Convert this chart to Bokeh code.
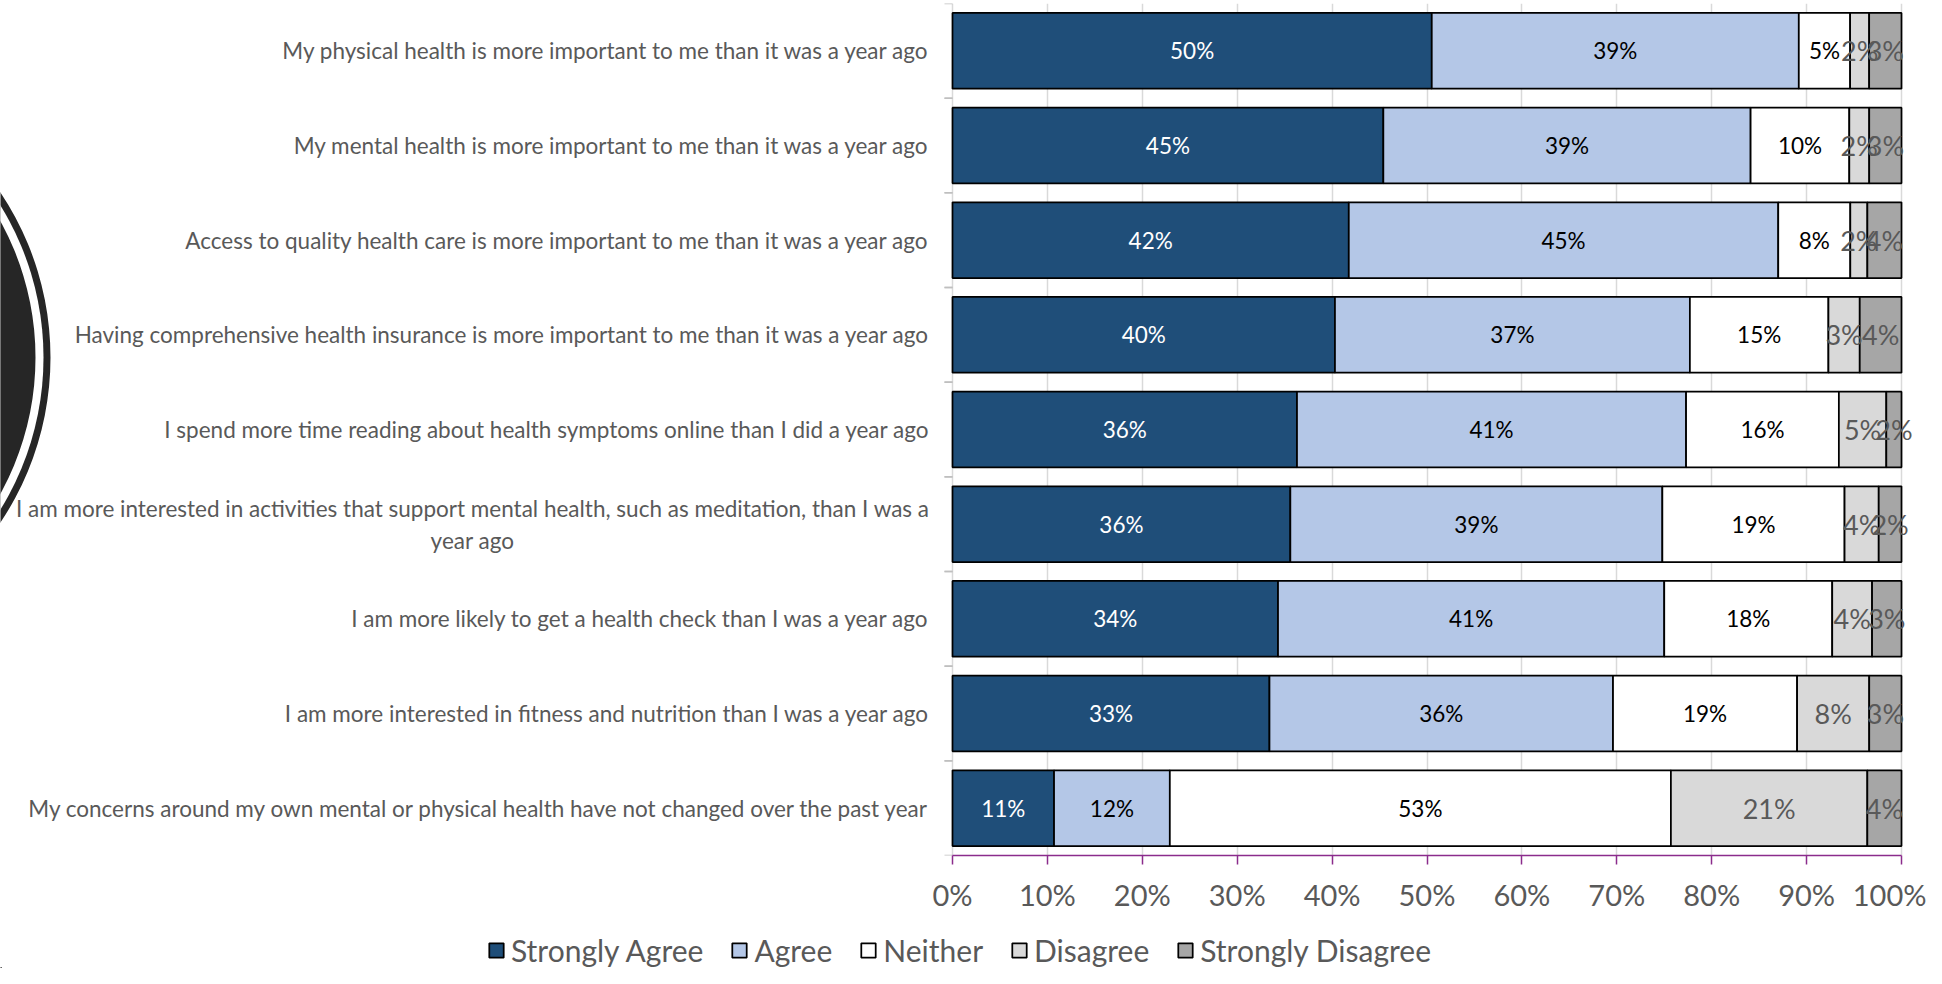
from bokeh.plotting import figure
from bokeh.layouts import column
from bokeh.models import (Range1d, FactorRange, ColumnDataSource, FixedTicker,
                          PrintfTickFormatter, Legend, LegendItem)
from bokeh.transform import dodge
from bokeh.core.properties import value
from bokeh.embed import file_html
from bokeh.resources import INLINE

# ---------------- data ----------------
categories = [
    "My physical health is more important to me than it was a year ago",
    "My mental health is more important to me than it was a year ago",
    "Access to quality health care is more important to me than it was a year ago",
    "Having comprehensive health insurance is more important to me than it was a year ago",
    "I spend more time reading about health symptoms online than I did a year ago",
    "I am more interested in activities that support mental health, such as meditation, than I was a year ago",
    "I am more likely to get a health check than I was a year ago",
    "I am more interested in fitness and nutrition than I was a year ago",
    "My concerns around my own mental or physical health have not changed over the past year",
]
strongly_agree = [50.4, 45.4, 41.8, 40.3, 36.3, 35.6, 34.3, 33.4, 10.7]
agree = [38.6, 38.7, 45.3, 37.4, 41.0, 39.2, 40.7, 36.2, 12.2]
neither = [5.4, 10.4, 7.6, 14.6, 16.1, 19.2, 17.7, 19.4, 52.8]
disagree = [2.0, 2.1, 1.8, 3.3, 5.0, 3.6, 4.2, 7.6, 20.7]
strongly_disagree = [3.4, 3.4, 3.6, 4.4, 1.6, 2.4, 3.1, 3.4, 3.6]
series_names = ["Strongly Agree", "Agree", "Neither", "Disagree", "Strongly Disagree"]
tick_values = [0, 10, 20, 30, 40, 50, 60, 70, 80, 90, 100]

# ---------------- style ----------------
FONT = "Lato"
colors = ["#1F4E79", "#B4C7E7", "#FFFFFF", "#D9D9D9", "#A6A6A6"]
label_colors = ["#FFFFFF", "#000000", "#000000", "#595959", "#595959"]
label_sizes = ["22.5px", "22.5px", "22.5px", "27px", "27px"]
GRAY_TEXT = "#595959"
AXIS_PURPLE = "#8B2C8C"

W, H_TOTAL = 1926, 968
H_MAIN = 917
H_LEG = H_TOTAL - H_MAIN
FRAME_TOP = 3
FRAME_BOTTOM = 855
ZERO_X = 952
HUNDRED_X = 1901
PX = (HUNDRED_X - ZERO_X) / 100.0
x_start = -ZERO_X / PX
x_end = x_start + W / PX

series = [strongly_agree, agree, neither, disagree, strongly_disagree]
totals = [sum(v) for v in zip(*series)]
norm = [[v / t * 100.0 for v, t in zip(s, totals)] for s in series]

data = {"cat": categories}
for name, vals in zip(series_names, norm):
    data[name] = vals
src = ColumnDataSource(data)

p = figure(width=W, height=H_MAIN, output_backend="svg", toolbar_location=None,
           x_range=Range1d(x_start, x_end),
           y_range=FactorRange(factors=categories[::-1]),
           y_axis_location=None,
           min_border_left=0, min_border_right=0, min_border_top=FRAME_TOP,
           min_border_bottom=H_MAIN - FRAME_BOTTOM)
p.outline_line_color = None
p.background_fill_color = "white"
p.border_fill_color = "white"

# grid
p.xgrid.ticker = FixedTicker(ticks=tick_values)
p.xgrid.grid_line_color = "#D9D9D9"
p.xgrid.grid_line_width = 1.5
p.ygrid.grid_line_color = None

# x axis
ax = p.xaxis[0]
ax.ticker = FixedTicker(ticks=tick_values)
ax.formatter = PrintfTickFormatter(format="%d%%")
ax.bounds = (0, 100)
ax.axis_line_color = AXIS_PURPLE
ax.axis_line_width = 1.5
ax.major_tick_line_color = AXIS_PURPLE
ax.major_tick_line_width = 1.5
ax.major_tick_in = 0
ax.major_tick_out = 9
ax.minor_tick_line_color = None
ax.major_label_text_font = FONT
ax.major_label_text_font_size = "29px"
ax.major_label_text_color = GRAY_TEXT
ax.major_label_standoff = 12

# decorative dark disc at left edge (slide background element)
n_cat = len(categories)
pitch = (FRAME_BOTTOM - FRAME_TOP) / n_cat
DISC_X_PAGE, DISC_Y_PAGE = -247, 357
disc_x = (DISC_X_PAGE - ZERO_X) / PX
disc_y = n_cat - (DISC_Y_PAGE - FRAME_TOP) / pitch
for r_px, col in [(297, "#262626"), (290, "#FFFFFF"), (282, "#262626")]:
    p.circle(x=[disc_x], y=[disc_y], radius=r_px / PX, radius_dimension="x",
             fill_color=col, line_color=None)

# category boundary ticks on the value axis
for off in (0.5, -0.5):
    p.segment(x0=-8 / PX, x1=0, y0=dodge("cat", off, range=p.y_range),
              y1=dodge("cat", off, range=p.y_range), source=src,
              line_color="#BFBFBF", line_width=1.5)

# stacked bars
renderers = p.hbar_stack(series_names, y="cat", height=0.8, source=src,
                         fill_color=colors, line_color="black", line_width=1.75)

# segment labels
left = [0.0] * n_cat
for i, name in enumerate(series_names):
    xs, ys, txt = [], [], []
    for j, c in enumerate(categories):
        v = norm[i][j]
        xs.append(left[j] + v / 2.0)
        ys.append(c)
        txt.append(f"{round(series[i][j])}%")
        left[j] += v
    p.text(x=xs, y=ys, text=txt, text_align="center", text_baseline="middle",
           text_font=value(FONT), text_font_size=label_sizes[i],
           text_color=label_colors[i])

# category labels (left side)
LABEL_X = -(ZERO_X - 929) / PX
CAT_FONT_SIZE = "22.5px"
single_x, single_y, single_t = [], [], []
wrap_cats = []
for c in categories:
    if len(c) > 95:
        wrap_cats.append(c)
    else:
        single_x.append(LABEL_X)
        single_y.append(c)
        single_t.append(c)
p.text(x=single_x, y=single_y, text=single_t, text_align="right",
       text_baseline="middle", text_font=value(FONT),
       text_font_size=CAT_FONT_SIZE, text_color=GRAY_TEXT)
LINE2_X = -(ZERO_X - 472) / PX
for c in wrap_cats:
    words = c.split()
    l1, l2 = " ".join(words[:-2]), " ".join(words[-2:])
    p.text(x=[LABEL_X], y=[c], text=[l1], text_align="right", text_baseline="middle",
           y_offset=-16, text_font=value(FONT), text_font_size=CAT_FONT_SIZE,
           text_color=GRAY_TEXT)
    p.text(x=[LINE2_X], y=[c], text=[l2], text_align="center", text_baseline="middle",
           y_offset=16, text_font=value(FONT), text_font_size=CAT_FONT_SIZE,
           text_color=GRAY_TEXT)

# legend strip (own figure under the chart); proxy swatches sit outside its view
lg = figure(width=W, height=H_LEG, output_backend="svg", toolbar_location=None,
            x_range=Range1d(0, W), y_range=Range1d(0, H_LEG),
            x_axis_location=None, y_axis_location=None,
            min_border=0, outline_line_color=None)
lg.xgrid.visible = False
lg.ygrid.visible = False
leg_renderers = []
for col in colors:
    leg_renderers.append(lg.hbar(y=[-100], left=[0], right=[1], height=1, fill_color=col,
                                 line_color="black", line_width=1.75))
legend = Legend(items=[LegendItem(label=n, renderers=[r]) for n, r in zip(series_names, leg_renderers)],
                orientation="horizontal", location=(487, 0),
                glyph_width=18, glyph_height=18, label_standoff=6, spacing=27,
                padding=0, margin=0, border_line_color=None, background_fill_alpha=0,
                label_text_font=FONT, label_text_font_size="30px",
                label_text_color=GRAY_TEXT)
lg.add_layout(legend)

layout = column(p, lg, spacing=0)
open("out.html", "w").write(file_html(layout, INLINE))
